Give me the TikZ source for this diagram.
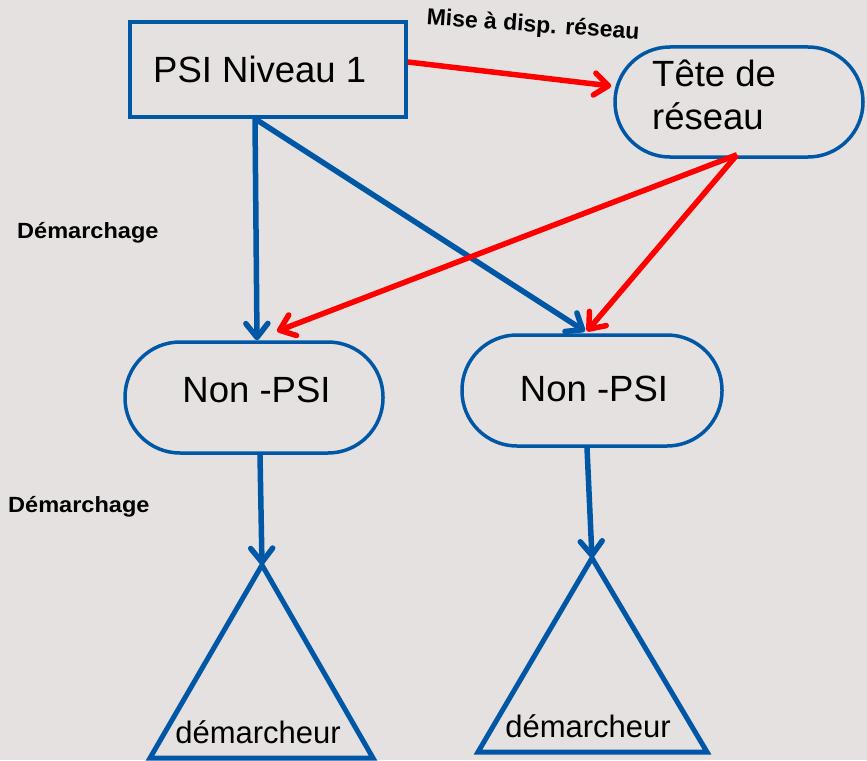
\documentclass[tikz,border=0pt]{standalone}
\usepackage{fontspec}
\setmainfont{Liberation Sans}
\usetikzlibrary{arrows.meta,calc}
\definecolor{bg}{HTML}{E5E1E0}
\definecolor{pblue}{HTML}{0057A6}
\definecolor{pred}{HTML}{FF0000}
\begin{document}
\begin{tikzpicture}[x=1pt,y=-1pt,
  shapebox/.style={draw=pblue,line width=3.5pt,inner sep=0pt,rectangle},
  pill/.style={shapebox,rounded corners=55pt},
  bigtxt/.style={inner sep=0pt,font=\fontsize{36.5}{43}\selectfont},
  midtxt/.style={inner sep=0pt,font=\fontsize{31}{37}\selectfont},
  boldlbl/.style={inner sep=0pt,font=\bfseries\fontsize{22}{26}\selectfont},
  tip/.style={-{Straight Barb[round,length=14pt,width=22pt]}},
  bluearr/.style={draw=pblue,line width=5.5pt,tip},
  redarr/.style={draw=pred,line width=5.5pt,tip},
  tri/.style={draw=pblue,line width=5pt,line join=miter}]
\fill[bg] (0,0) rectangle (867,760);
\useasboundingbox (0,0) rectangle (867,760);

% shapes
\node[shapebox,minimum width=276pt,minimum height=95pt] (psi) at (268,69.5) {};
\node[pill,minimum width=248pt,minimum height=110pt] (tete) at (739,102) {};
\node[pill,minimum width=258pt,minimum height=111pt] (nl) at (254,397.5) {};
\node[pill,minimum width=260pt,minimum height=111pt] (nr) at (592,390.5) {};
\draw[tri] (262,565) coordinate (tlA) -- (150,758) -- (373,758) -- cycle;
\draw[tri] (592,558) coordinate (trA) -- (478,752) -- (707,752) -- cycle;

% texts
\node[bigtxt,anchor=west] (psit) at (153,69) {PSI Niveau 1};
\node[bigtxt,anchor=west,align=left] (tetet) at (652,95) {Tête de\\réseau};
\node[bigtxt] (nlt) at (256.5,390) {Non -PSI};
\node[bigtxt] (nrt) at (594,388.5) {Non -PSI};
\node[midtxt] (tlt) at (258,732) {démarcheur};
\node[midtxt] (trt) at (588,726) {démarcheur};
\node[boldlbl,rotate=-4,font=\bfseries\fontsize{23}{28}\selectfont] (mise) at (533,26) {Mise à disp. réseau};
\node[boldlbl,anchor=base west,xscale=1.07] (dem1) at (17,238) {Démarchage};
\node[boldlbl,anchor=base west,xscale=1.07] (dem2) at (8,512) {Démarchage};

% connectors
\draw[redarr] ([yshift=7.5pt]psi.east) -- ([yshift=16pt,xshift=-2pt]tete.west);
\draw[bluearr] ([xshift=-13pt]psi.south) -- ([xshift=3pt]nl.north);
\draw[bluearr] ([xshift=-13pt]psi.south) -- ([xshift=-7pt,yshift=2pt]nr.north);
\draw[redarr] ([xshift=-2pt,yshift=4pt]tete.south) -- ([xshift=23pt,yshift=9pt]nl.north);
\draw[redarr] ([xshift=-2pt,yshift=4pt]tete.south) -- ([xshift=-5pt,yshift=2pt]nr.north);
\draw[bluearr] ([xshift=6pt]nl.south) -- (tlA);
\draw[bluearr] ([xshift=-5pt]nr.south) -- (trA);
\end{tikzpicture}
\end{document}
